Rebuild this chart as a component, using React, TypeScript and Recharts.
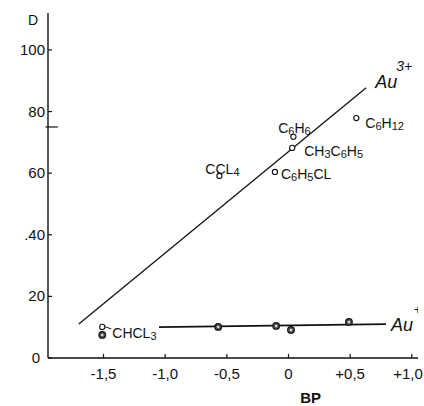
import { ScatterChart, Scatter, XAxis, YAxis, ReferenceLine, Label } from 'recharts';

// Au3+ complexes (open circles)
const compounds = ['C6H12', 'C6H6', 'CH3C6H5', 'C6H5CL', 'CCL4', 'CHCL3'];
const bpAu3 = [0.55, 0.04, 0.03, -0.11, -0.56, -1.51];
const dAu3 = [77.9, 71.8, 68.2, 60.4, 59.1, 10.1];

// Au+ complexes (filled circles)
const bpAu1 = [-1.51, -0.57, -0.1, 0.02, 0.49];
const dAu1 = [7.5, 10.1, 10.4, 9.1, 11.7];

// hand-drawn trend lines (end points)
const fitAu3Bp = [-1.7, 0.63];
const fitAu3D = [11.0, 87.7];
const fitAu1Bp = [-1.05, 0.79];
const fitAu1D = [10.0, 11.0];

const xTicks = [-1.5, -1, -0.5, 0, 0.5, 1];
const xTickLabels = ['-1,5', '-1,0', '-0,5', '0', '+0,5', '+1,0'];
const yTicks = [0, 20, 40, 60, 80, 100];
const yTickLabels = ['0', '20', '.40', '60', '80', '100'];
const markD = 75;

const INK = '#111';
const FONT = '"Liberation Sans", Arial, sans-serif';

const labelPlace: Record<string, { dx: number; dy: number; anchor: 'start' | 'middle' }> = {
  C6H12: { dx: 9, dy: 5, anchor: 'start' },
  C6H6: { dx: 1, dy: -9, anchor: 'middle' },
  CH3C6H5: { dx: 12, dy: 3, anchor: 'start' },
  C6H5CL: { dx: 6, dy: 2, anchor: 'start' },
  CCL4: { dx: 3, dy: -7, anchor: 'middle' },
  CHCL3: { dx: 10, dy: 6, anchor: 'start' },
};

const au3Rows = compounds.map((name, i) => ({ bp: bpAu3[i], d: dAu3[i], name }));
const au1Rows = bpAu1.map((bp, i) => ({ bp, d: dAu1[i] }));
const fitAu3 = fitAu3Bp.map((bp, i) => ({ bp, d: fitAu3D[i], tag: i === fitAu3Bp.length - 1 ? '3+' : '' }));
const fitAu1 = fitAu1Bp.map((bp, i) => ({ bp, d: fitAu1D[i], tag: i === fitAu1Bp.length - 1 ? '+' : '' }));

const Formula = ({ text }: { text: string }) => {
  const parts = text.match(/[A-Z]+|[0-9]+/g) || [];
  let shifted = false;
  return (
    <>
      {parts.map((p, i) => {
        const isNum = /\d/.test(p);
        const dy = isNum && !shifted ? 2 : !isNum && shifted ? -2 : 0;
        shifted = isNum;
        return (
          <tspan key={i} dy={dy} fontSize={isNum ? 11 : 14}>
            {p}
          </tspan>
        );
      })}
    </>
  );
};

const OpenDot = (props: any) => {
  const { cx, cy, payload } = props;
  const place = labelPlace[payload.name];
  return (
    <g>
      <circle cx={cx} cy={cy} r={2.6} fill="#fff" stroke={INK} strokeWidth={1.1} />
      {payload.name === 'CHCL3' && (
        <line x1={cx + 3} y1={cy} x2={cx + 9} y2={cy + 2} stroke={INK} strokeWidth={1} />
      )}
      <text x={cx + place.dx} y={cy + place.dy + 5} textAnchor={place.anchor} fill={INK} fontFamily={FONT}>
        <Formula text={payload.name} />
      </text>
    </g>
  );
};

const FilledDot = (props: any) => {
  const { cx, cy } = props;
  return (
    <g>
      <circle cx={cx} cy={cy} r={3.3} fill="#555" stroke={INK} strokeWidth={1.2} />
      <circle cx={cx} cy={cy} r={1.2} fill="#ddd" />
    </g>
  );
};

const LineEnd = (props: any) => {
  const { cx, cy, payload } = props;
  if (!payload.tag) return <g />;
  if (payload.tag === '3+') {
    return (
      <g fill={INK} fontFamily={FONT} fontStyle="italic">
        <text x={cx + 9} y={cy} fontSize={18}>Au</text>
        <text x={cx + 30} y={cy - 17} fontSize={14}>3+</text>
      </g>
    );
  }
  return (
    <g fill={INK} fontFamily={FONT} fontStyle="italic">
      <text x={cx + 5} y={cy + 7} fontSize={18}>Au</text>
      <text x={cx + 28} y={cy - 10} fontSize={13} fontStyle="normal">+</text>
    </g>
  );
};

const YTick = (props: any) => {
  const { x, y, payload } = props;
  const i = yTicks.indexOf(payload.value);
  return (
    <g>
      <line x1={x} y1={y} x2={x + 4} y2={y} stroke={INK} strokeWidth={1.2} />
      <text x={payload.value === 0 ? x - 8 : x - 3} y={y + 5} textAnchor="end" fontSize={15} fill={INK} fontFamily={FONT}>
        {yTickLabels[i]}
      </text>
    </g>
  );
};

const XTick = (props: any) => {
  const { x, y, payload } = props;
  const i = xTicks.indexOf(payload.value);
  const last = i === xTicks.length - 1;
  return (
    <g>
      <line x1={x} y1={y} x2={x} y2={y - 4} stroke={INK} strokeWidth={1.2} />
      <text
        x={last ? x + 11 : x}
        y={y + 21}
        textAnchor={last ? 'end' : 'middle'}
        fontSize={15}
        fill={INK}
        fontFamily={FONT}
      >
        {xTickLabels[i]}
      </text>
    </g>
  );
};

export default function App() {
  return (
    <div style={{ position: 'absolute', left: 0, top: 0, background: '#fff', width: 424, height: 406 }}>
      <ScatterChart width={424} height={406} margin={{ top: 13, right: 6, bottom: 0, left: 0 }}>
        <XAxis
          type="number"
          dataKey="bp"
          domain={[-1.95, 1.05]}
          ticks={xTicks}
          tick={<XTick />}
          tickSize={0}
          tickMargin={0}
          tickLine={false}
          height={48}
          axisLine={{ stroke: INK, strokeWidth: 1.4 }}
          allowDataOverflow
        >
          <Label
            content={(p: any) => (
              <text x={p.viewBox.x + p.viewBox.width * 0.71} y={403} textAnchor="middle" fontSize={15} fontWeight="bold" fill={INK} fontFamily={FONT}>
                BP
              </text>
            )}
          />
        </XAxis>
        <YAxis
          type="number"
          dataKey="d"
          domain={[0, 112]}
          ticks={yTicks}
          tick={<YTick />}
          tickSize={0}
          tickMargin={0}
          tickLine={false}
          width={48}
          axisLine={{ stroke: INK, strokeWidth: 1.4 }}
          allowDataOverflow
        >
          <Label
            content={(p: any) => (
              <text x={p.viewBox.x + 33} y={p.viewBox.y + 12} textAnchor="middle" fontSize={14} fill={INK} fontFamily={FONT}>
                D
              </text>
            )}
          />
        </YAxis>
        <ReferenceLine
          segment={[{ x: -1.97, y: markD }, { x: -1.87, y: markD }]}
          stroke={INK}
          strokeWidth={1.2}
          ifOverflow="visible"
        />
        <Scatter
          data={fitAu3}
          line={{ stroke: INK, strokeWidth: 1.3 }}
          shape={<LineEnd />}
          isAnimationActive={false}
        />
        <Scatter
          data={fitAu1}
          line={{ stroke: INK, strokeWidth: 1.8 }}
          shape={<LineEnd />}
          isAnimationActive={false}
        />
        <Scatter data={au1Rows} shape={<FilledDot />} isAnimationActive={false} />
        <Scatter data={au3Rows} shape={<OpenDot />} isAnimationActive={false} />
      </ScatterChart>
    </div>
  );
}
